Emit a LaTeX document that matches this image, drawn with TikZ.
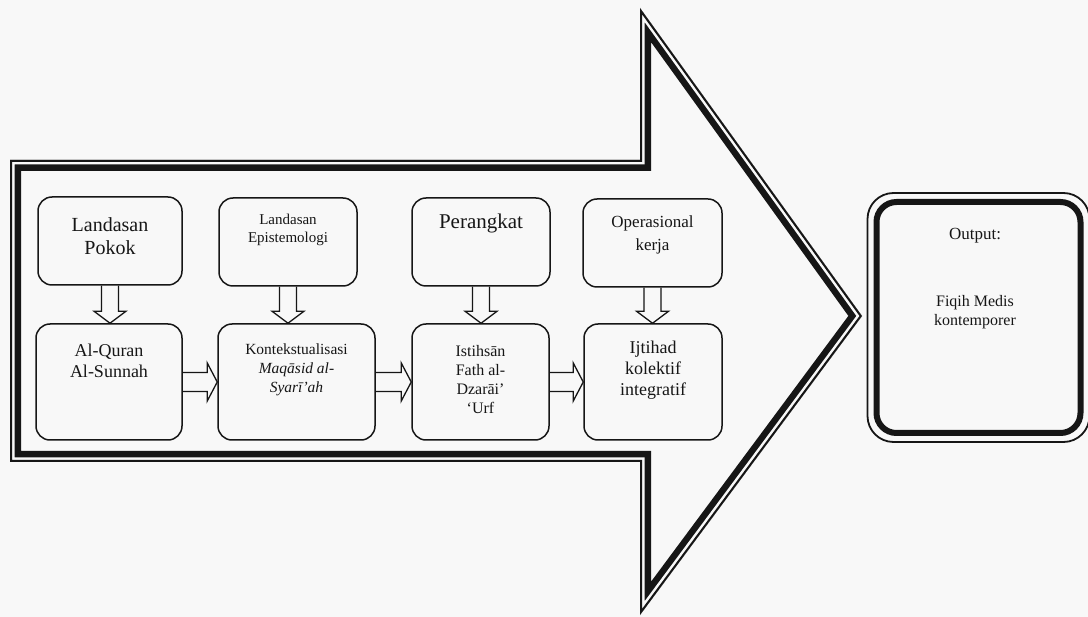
\documentclass[tikz,border=0pt]{standalone}
\usepackage{fontspec}
\setmainfont{Liberation Serif}
\usetikzlibrary{calc}
\definecolor{paper}{RGB}{248,248,248}
\definecolor{ink}{RGB}{22,22,22}
\tikzset{
  box/.style={draw=ink, line width=1.5pt, rounded corners=14pt, inner sep=0pt},
  txt/.style={align=center, inner sep=0pt, text=ink},
  blk/.style={draw=ink, line width=1.3pt, line join=miter},
}
\newcommand{\downblk}[2]{%
  \draw[blk] ($(#1.south)+(-8.5,0)$) -- ($(#1.south |- #2.north)+(-8.5,-12)$)
    -- ($(#1.south |- #2.north)+(-16,-12)$) -- (#1.south |- #2.north)
    -- ($(#1.south |- #2.north)+(16,-12)$) -- ($(#1.south |- #2.north)+(8.5,-12)$)
    -- ($(#1.south)+(8.5,0)$);}
\newcommand{\rightblk}[2]{%
  \draw[blk] ($(#1.east)+(0,-9.5)$) -- ($(#2.west)+(-10,-9.5)$)
    -- ($(#2.west)+(-10,-19)$) -- (#2.west)
    -- ($(#2.west)+(-10,19)$) -- ($(#2.west)+(-10,9.5)$)
    -- ($(#1.east)+(0,9.5)$);}
\begin{document}
\begin{tikzpicture}[x=1pt,y=-1pt]
\fill[paper] (0,0) rectangle (1088,617);
\useasboundingbox (0,0) rectangle (1088,617);

% big outlined arrow: thin outer line, gap, thick inner line
\begin{scope}
  \clip (10,160) -- (640,160) -- (640,8) -- (862,316) -- (640,615) -- (640,462) -- (10,462) -- cycle;
  \draw[ink, line width=22pt, line join=miter] (10,160) -- (640,160) -- (640,8) -- (862,316) -- (640,615) -- (640,462) -- (10,462) -- cycle;
  \draw[paper, line width=9pt, line join=miter] (10,160) -- (640,160) -- (640,8) -- (862,316) -- (640,615) -- (640,462) -- (10,462) -- cycle;
  \draw[ink, line width=4pt, line join=miter] (10,160) -- (640,160) -- (640,8) -- (862,316) -- (640,615) -- (640,462) -- (10,462) -- cycle;
\end{scope}

% top row boxes
\node[box, minimum width=144pt, minimum height=88pt] (b1) at (110,241) {};
\node[box, minimum width=138pt, minimum height=88pt] (b2) at (288,242) {};
\node[box, minimum width=138pt, minimum height=88pt] (b3) at (481,242) {};
\node[box, minimum width=139pt, minimum height=88pt] (b4) at (652.5,243) {};
% bottom row boxes
\node[box, minimum width=146pt, minimum height=116pt] (b5) at (109,382) {};
\node[box, minimum width=157pt, minimum height=116pt] (b6) at (296.5,382) {};
\node[box, minimum width=137pt, minimum height=116pt] (b7) at (480.5,382) {};
\node[box, minimum width=138pt, minimum height=116pt] (b8) at (653,382) {};

% texts
\node[txt, font=\fontsize{20}{23}\selectfont] (t1) at (110,236) {Landasan\\Pokok};
\node[txt, font=\fontsize{15}{18}\selectfont] (t2) at (288,230) {Landasan\\Epistemologi};
\node[txt, font=\fontsize{21}{24}\selectfont] (t3) at (481,223) {Perangkat};
\node[txt, font=\fontsize{17}{23}\selectfont] (t4) at (652.5,235) {Operasional\\kerja};
\node[txt, font=\fontsize{18}{21}\selectfont] (t5) at (109,361) {Al-Quran\\Al-Sunnah};
\node[txt, font=\fontsize{15.5}{19}\selectfont] (t6) at (296.5,370) {Kontekstualisasi\\\textit{Maqāsid al-}\\\textit{Syarī’ah}};
\node[txt, font=\fontsize{16}{19}\selectfont] (t7) at (480.5,380) {Istihsān\\Fath al-\\Dzarāi’\\‘Urf};
\node[txt, font=\fontsize{18}{21}\selectfont] (t8) at (653,370) {Ijtihad\\kolektif\\integratif};

% connectors
\downblk{b1}{b5}
\downblk{b2}{b6}
\downblk{b3}{b7}
\downblk{b4}{b8}
\rightblk{b5}{b6}
\rightblk{b6}{b7}
\rightblk{b7}{b8}

% output box
\node[draw=ink, line width=6pt, rounded corners=20pt, minimum width=204pt, minimum height=231pt, inner sep=0pt] (out) at (978.5,317.5) {};
\draw[ink, line width=1.8pt, rounded corners=26pt] ($(out.south west)+(-6,6)$) rectangle ($(out.north east)+(6,-6)$);
\node[txt, font=\fontsize{17}{20}\selectfont] (o1) at (975,236) {Output:};
\node[txt, font=\fontsize{16}{19}\selectfont] (o2) at (975,312) {Fiqih Medis\\kontemporer};
\end{tikzpicture}
\end{document}
